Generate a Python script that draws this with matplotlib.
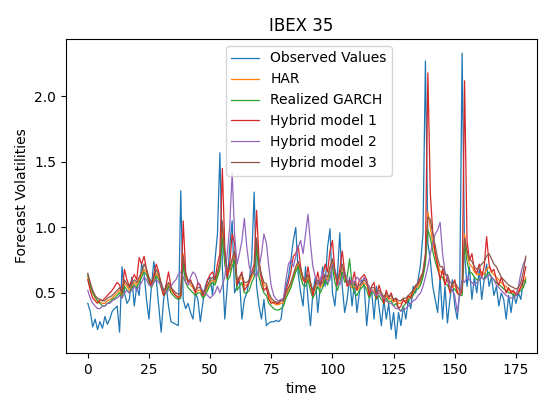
import numpy as np
import matplotlib
matplotlib.use("Agg")
import matplotlib.pyplot as plt

title = "IBEX 35"
labels = ["Observed Values", "HAR", "Realized GARCH",
          "Hybrid model 1", "Hybrid model 2", "Hybrid model 3"]

observed = [
    0.42, 0.36, 0.24, 0.30, 0.22, 0.28, 0.23, 0.32, 0.26, 0.30,
    0.36, 0.38, 0.40, 0.20, 0.70, 0.50, 0.42, 0.45, 0.62, 0.40,
    0.55, 0.48, 0.72, 0.65, 0.45, 0.30, 0.55, 0.74, 0.60, 0.40,
    0.20, 0.45, 0.56, 0.40, 0.28, 0.27, 0.26, 0.25, 1.28, 0.45,
    0.38, 0.42, 0.35, 0.30, 0.50, 0.45, 0.28, 0.42, 0.55, 0.60,
    0.62, 0.48, 0.75, 0.95, 1.57, 0.70, 0.30, 0.55, 0.85, 1.05,
    0.50, 0.55, 0.60, 0.30, 0.45, 0.50, 0.60, 0.75, 1.27, 0.55,
    0.40, 0.30, 0.45, 0.25, 0.27, 0.28, 0.28, 0.29, 0.28, 0.30,
    0.45, 0.55, 0.62, 0.75, 0.90, 1.00, 0.65, 0.50, 0.40, 0.70,
    0.45, 0.25, 0.50, 0.62, 0.35, 0.55, 0.70, 0.55, 0.85, 0.99,
    0.50, 0.40, 0.62, 0.96, 0.55, 0.35, 0.45, 0.62, 0.40, 0.58,
    0.35, 0.50, 0.60, 0.55, 0.25, 0.45, 0.52, 0.30, 0.55, 0.40,
    0.25, 0.45, 0.30, 0.42, 0.22, 0.35, 0.15, 0.35, 0.25, 0.40,
    0.30, 0.45, 0.38, 0.55, 0.50, 0.60, 0.72, 0.95, 2.27, 0.88,
    0.75, 0.55, 0.45, 0.35, 0.62, 0.30, 0.55, 0.27, 0.45, 0.60,
    0.40, 0.30, 0.50, 2.33, 0.80, 0.55, 0.70, 0.45, 0.62, 0.50,
    0.68, 0.45, 0.60, 0.72, 0.55, 0.62, 0.48, 0.55, 0.40, 0.50,
    0.45, 0.30, 0.48, 0.35, 0.50, 0.42, 0.50, 0.45, 0.60, 0.58,
]

har = [
    0.62, 0.55, 0.50, 0.46, 0.44, 0.43, 0.42, 0.42, 0.44, 0.45,
    0.46, 0.48, 0.50, 0.52, 0.48, 0.58, 0.55, 0.52, 0.55, 0.58,
    0.56, 0.60, 0.64, 0.68, 0.66, 0.60, 0.56, 0.60, 0.65, 0.62,
    0.56, 0.50, 0.52, 0.56, 0.52, 0.50, 0.48, 0.47, 0.48, 0.80,
    0.62, 0.58, 0.56, 0.54, 0.50, 0.52, 0.52, 0.48, 0.50, 0.54,
    0.58, 0.60, 0.58, 0.64, 0.72, 1.00, 0.78, 0.66, 0.66, 0.74,
    0.80, 0.58, 0.60, 0.62, 0.56, 0.56, 0.58, 0.62, 0.66, 0.90,
    0.70, 0.62, 0.56, 0.55, 0.48, 0.44, 0.42, 0.41, 0.41, 0.42,
    0.42, 0.48, 0.52, 0.56, 0.62, 0.68, 0.72, 0.66, 0.60, 0.58,
    0.62, 0.56, 0.50, 0.54, 0.58, 0.54, 0.56, 0.62, 0.60, 0.68,
    0.74, 0.64, 0.58, 0.62, 0.70, 0.62, 0.56, 0.56, 0.54, 0.55,
    0.52, 0.54, 0.56, 0.58, 0.56, 0.50, 0.52, 0.52, 0.48, 0.50,
    0.48, 0.45, 0.48, 0.45, 0.46, 0.43, 0.44, 0.42, 0.42, 0.44,
    0.44, 0.46, 0.48, 0.50, 0.54, 0.55, 0.58, 0.64, 0.75, 1.12,
    1.00, 0.88, 0.80, 0.72, 0.66, 0.66, 0.60, 0.60, 0.55, 0.54,
    0.56, 0.52, 0.50, 0.50, 0.95, 0.80, 0.72, 0.70, 0.66, 0.64,
    0.64, 0.66, 0.64, 0.68, 0.70, 0.66, 0.64, 0.62, 0.60, 0.58,
    0.56, 0.55, 0.52, 0.52, 0.50, 0.50, 0.52, 0.54, 0.55, 0.62,
]

rgarch = [
    0.64, 0.56, 0.50, 0.47, 0.44, 0.42, 0.40, 0.40, 0.42, 0.43,
    0.45, 0.46, 0.48, 0.50, 0.46, 0.55, 0.52, 0.50, 0.54, 0.56,
    0.54, 0.58, 0.62, 0.66, 0.64, 0.58, 0.54, 0.58, 0.63, 0.60,
    0.54, 0.48, 0.50, 0.55, 0.50, 0.48, 0.46, 0.45, 0.46, 0.72,
    0.58, 0.54, 0.52, 0.50, 0.48, 0.50, 0.50, 0.46, 0.48, 0.52,
    0.56, 0.58, 0.56, 0.62, 0.68, 0.92, 0.72, 0.60, 0.62, 0.70,
    0.75, 0.52, 0.55, 0.58, 0.50, 0.50, 0.52, 0.58, 0.62, 0.85,
    0.62, 0.55, 0.50, 0.48, 0.42, 0.40, 0.38, 0.37, 0.37, 0.38,
    0.40, 0.46, 0.50, 0.54, 0.60, 0.66, 0.70, 0.62, 0.56, 0.55,
    0.60, 0.52, 0.46, 0.50, 0.55, 0.50, 0.54, 0.60, 0.56, 0.64,
    0.70, 0.58, 0.52, 0.58, 0.66, 0.58, 0.62, 0.76, 0.56, 0.50,
    0.48, 0.52, 0.54, 0.56, 0.52, 0.46, 0.50, 0.50, 0.45, 0.48,
    0.45, 0.42, 0.46, 0.43, 0.44, 0.40, 0.42, 0.38, 0.36, 0.40,
    0.42, 0.44, 0.46, 0.48, 0.52, 0.53, 0.56, 0.62, 0.72, 0.98,
    0.92, 0.82, 0.74, 0.68, 0.62, 0.62, 0.57, 0.56, 0.52, 0.52,
    0.53, 0.50, 0.48, 0.48, 0.88, 0.74, 0.66, 0.65, 0.62, 0.60,
    0.60, 0.62, 0.60, 0.64, 0.66, 0.62, 0.60, 0.58, 0.56, 0.55,
    0.53, 0.52, 0.50, 0.50, 0.48, 0.48, 0.50, 0.52, 0.54, 0.60,
]

hybrid1 = [
    0.60, 0.52, 0.46, 0.44, 0.42, 0.45, 0.44, 0.46, 0.48, 0.50,
    0.52, 0.55, 0.58, 0.56, 0.50, 0.68, 0.60, 0.55, 0.60, 0.64,
    0.60, 0.77, 0.72, 0.78, 0.68, 0.60, 0.55, 0.64, 0.72, 0.66,
    0.55, 0.48, 0.56, 0.66, 0.55, 0.50, 0.48, 0.46, 0.48, 1.05,
    0.66, 0.58, 0.60, 0.55, 0.50, 0.58, 0.56, 0.48, 0.52, 0.60,
    0.64, 0.66, 0.60, 0.72, 0.80, 1.45, 0.85, 0.62, 0.72, 0.95,
    0.88, 0.56, 0.62, 0.66, 0.52, 0.55, 0.58, 0.66, 0.72, 1.13,
    0.75, 0.60, 0.52, 0.54, 0.45, 0.42, 0.43, 0.42, 0.42, 0.44,
    0.45, 0.52, 0.58, 0.66, 0.78, 0.80, 0.86, 0.70, 0.60, 0.58,
    0.70, 0.58, 0.48, 0.56, 0.66, 0.56, 0.62, 0.72, 0.66, 0.82,
    0.90, 0.66, 0.56, 0.68, 0.82, 0.66, 0.55, 0.60, 0.58, 0.66,
    0.52, 0.60, 0.62, 0.64, 0.60, 0.48, 0.55, 0.58, 0.46, 0.56,
    0.50, 0.42, 0.52, 0.46, 0.50, 0.44, 0.46, 0.38, 0.40, 0.45,
    0.42, 0.48, 0.46, 0.52, 0.55, 0.58, 0.62, 0.66, 0.80, 2.18,
    1.26, 0.96, 0.80, 0.70, 0.60, 0.68, 0.56, 0.62, 0.50, 0.56,
    0.60, 0.50, 0.48, 0.52, 2.12, 0.90, 0.75, 0.80, 0.68, 0.65,
    0.72, 0.62, 0.70, 0.93, 0.72, 0.66, 0.68, 0.60, 0.56, 0.62,
    0.56, 0.50, 0.54, 0.50, 0.52, 0.48, 0.50, 0.55, 0.60, 0.70,
]

hybrid2 = [
    0.52, 0.46, 0.42, 0.40, 0.38, 0.38, 0.40, 0.40, 0.42, 0.42,
    0.44, 0.45, 0.46, 0.48, 0.46, 0.50, 0.52, 0.50, 0.52, 0.55,
    0.52, 0.55, 0.58, 0.62, 0.60, 0.56, 0.55, 0.58, 0.60, 0.58,
    0.56, 0.52, 0.50, 0.52, 0.55, 0.58, 0.60, 0.64, 0.66, 0.62,
    0.58, 0.56, 0.62, 0.66, 0.64, 0.58, 0.54, 0.52, 0.50, 0.48,
    0.46, 0.48, 0.50, 0.55, 0.50, 0.56, 0.62, 0.80, 1.00, 1.42,
    0.95, 0.72, 0.80, 0.90, 1.07, 0.85, 0.70, 0.65, 0.66, 0.62,
    0.70, 0.80, 0.95, 0.88, 0.70, 0.55, 0.48, 0.45, 0.44, 0.45,
    0.46, 0.60, 0.72, 0.75, 0.70, 0.78, 0.85, 0.90, 0.80, 0.95,
    1.10, 0.88, 0.70, 0.62, 0.56, 0.60, 0.66, 0.62, 0.58, 0.60,
    0.72, 0.68, 0.60, 0.56, 0.62, 0.66, 0.60, 0.56, 0.60, 0.58,
    0.62, 0.60, 0.58, 0.62, 0.58, 0.55, 0.52, 0.50, 0.48, 0.50,
    0.48, 0.46, 0.44, 0.42, 0.42, 0.40, 0.38, 0.38, 0.36, 0.38,
    0.38, 0.40, 0.42, 0.44, 0.45, 0.48, 0.50, 0.55, 0.62, 0.70,
    0.80, 0.88, 0.95, 0.98, 1.04, 0.80, 0.66, 0.60, 0.55, 0.52,
    0.48, 0.35, 0.50, 0.60, 0.58, 0.62, 0.60, 0.58, 0.56, 0.58,
    0.60, 0.62, 0.60, 0.62, 0.64, 0.62, 0.60, 0.56, 0.54, 0.52,
    0.50, 0.48, 0.47, 0.46, 0.46, 0.48, 0.55, 0.65, 0.72, 0.76,
]

hybrid3 = [
    0.65, 0.58, 0.52, 0.48, 0.46, 0.45, 0.44, 0.44, 0.46, 0.47,
    0.48, 0.50, 0.52, 0.54, 0.50, 0.60, 0.57, 0.54, 0.57, 0.60,
    0.58, 0.62, 0.66, 0.72, 0.68, 0.62, 0.58, 0.62, 0.68, 0.64,
    0.58, 0.52, 0.54, 0.58, 0.54, 0.52, 0.50, 0.49, 0.50, 0.78,
    0.64, 0.60, 0.58, 0.56, 0.52, 0.54, 0.54, 0.50, 0.52, 0.56,
    0.60, 0.62, 0.60, 0.66, 0.74, 1.05, 0.80, 0.68, 0.68, 0.76,
    0.82, 0.60, 0.62, 0.64, 0.58, 0.58, 0.60, 0.64, 0.68, 0.92,
    0.72, 0.64, 0.58, 0.57, 0.50, 0.46, 0.44, 0.43, 0.43, 0.44,
    0.44, 0.50, 0.54, 0.58, 0.64, 0.70, 0.74, 0.68, 0.62, 0.60,
    0.64, 0.58, 0.52, 0.56, 0.60, 0.56, 0.58, 0.64, 0.62, 0.70,
    0.76, 0.66, 0.60, 0.64, 0.72, 0.64, 0.58, 0.58, 0.56, 0.58,
    0.54, 0.56, 0.58, 0.60, 0.58, 0.52, 0.54, 0.54, 0.50, 0.52,
    0.50, 0.47, 0.50, 0.47, 0.48, 0.45, 0.46, 0.44, 0.44, 0.46,
    0.46, 0.48, 0.50, 0.52, 0.56, 0.57, 0.60, 0.66, 0.78, 1.08,
    1.06, 0.95, 0.86, 0.76, 0.70, 0.70, 0.64, 0.64, 0.58, 0.57,
    0.58, 0.55, 0.52, 0.52, 0.92, 0.82, 0.76, 0.74, 0.70, 0.68,
    0.70, 0.72, 0.74, 0.78, 0.80, 0.76, 0.72, 0.70, 0.66, 0.62,
    0.60, 0.58, 0.56, 0.55, 0.54, 0.53, 0.54, 0.58, 0.66, 0.78,
]


def plot_data(series, outfile="out.png"):
    fig = plt.figure(figsize=(5.44, 3.96), dpi=100)
    ax = fig.add_axes([66 / 544, 1 - 353 / 396, 471 / 544, 314 / 396])
    for values, label in zip(series, labels):
        ax.plot(np.arange(len(values)), values, label=label, linewidth=0.9)
    ax.set_xlim(-8.9, 183.6)
    ax.set_title(title, fontsize=12)
    ax.set_xlabel("time")
    ax.set_ylabel("Forecast Volatilities")
    ax.legend(loc="upper center", bbox_to_anchor=(0.516, 1.0))
    fig.savefig(outfile, dpi=100)


def main():
    plot_data([observed, har, rgarch, hybrid1, hybrid2, hybrid3])


if __name__ == "__main__":
    main()
